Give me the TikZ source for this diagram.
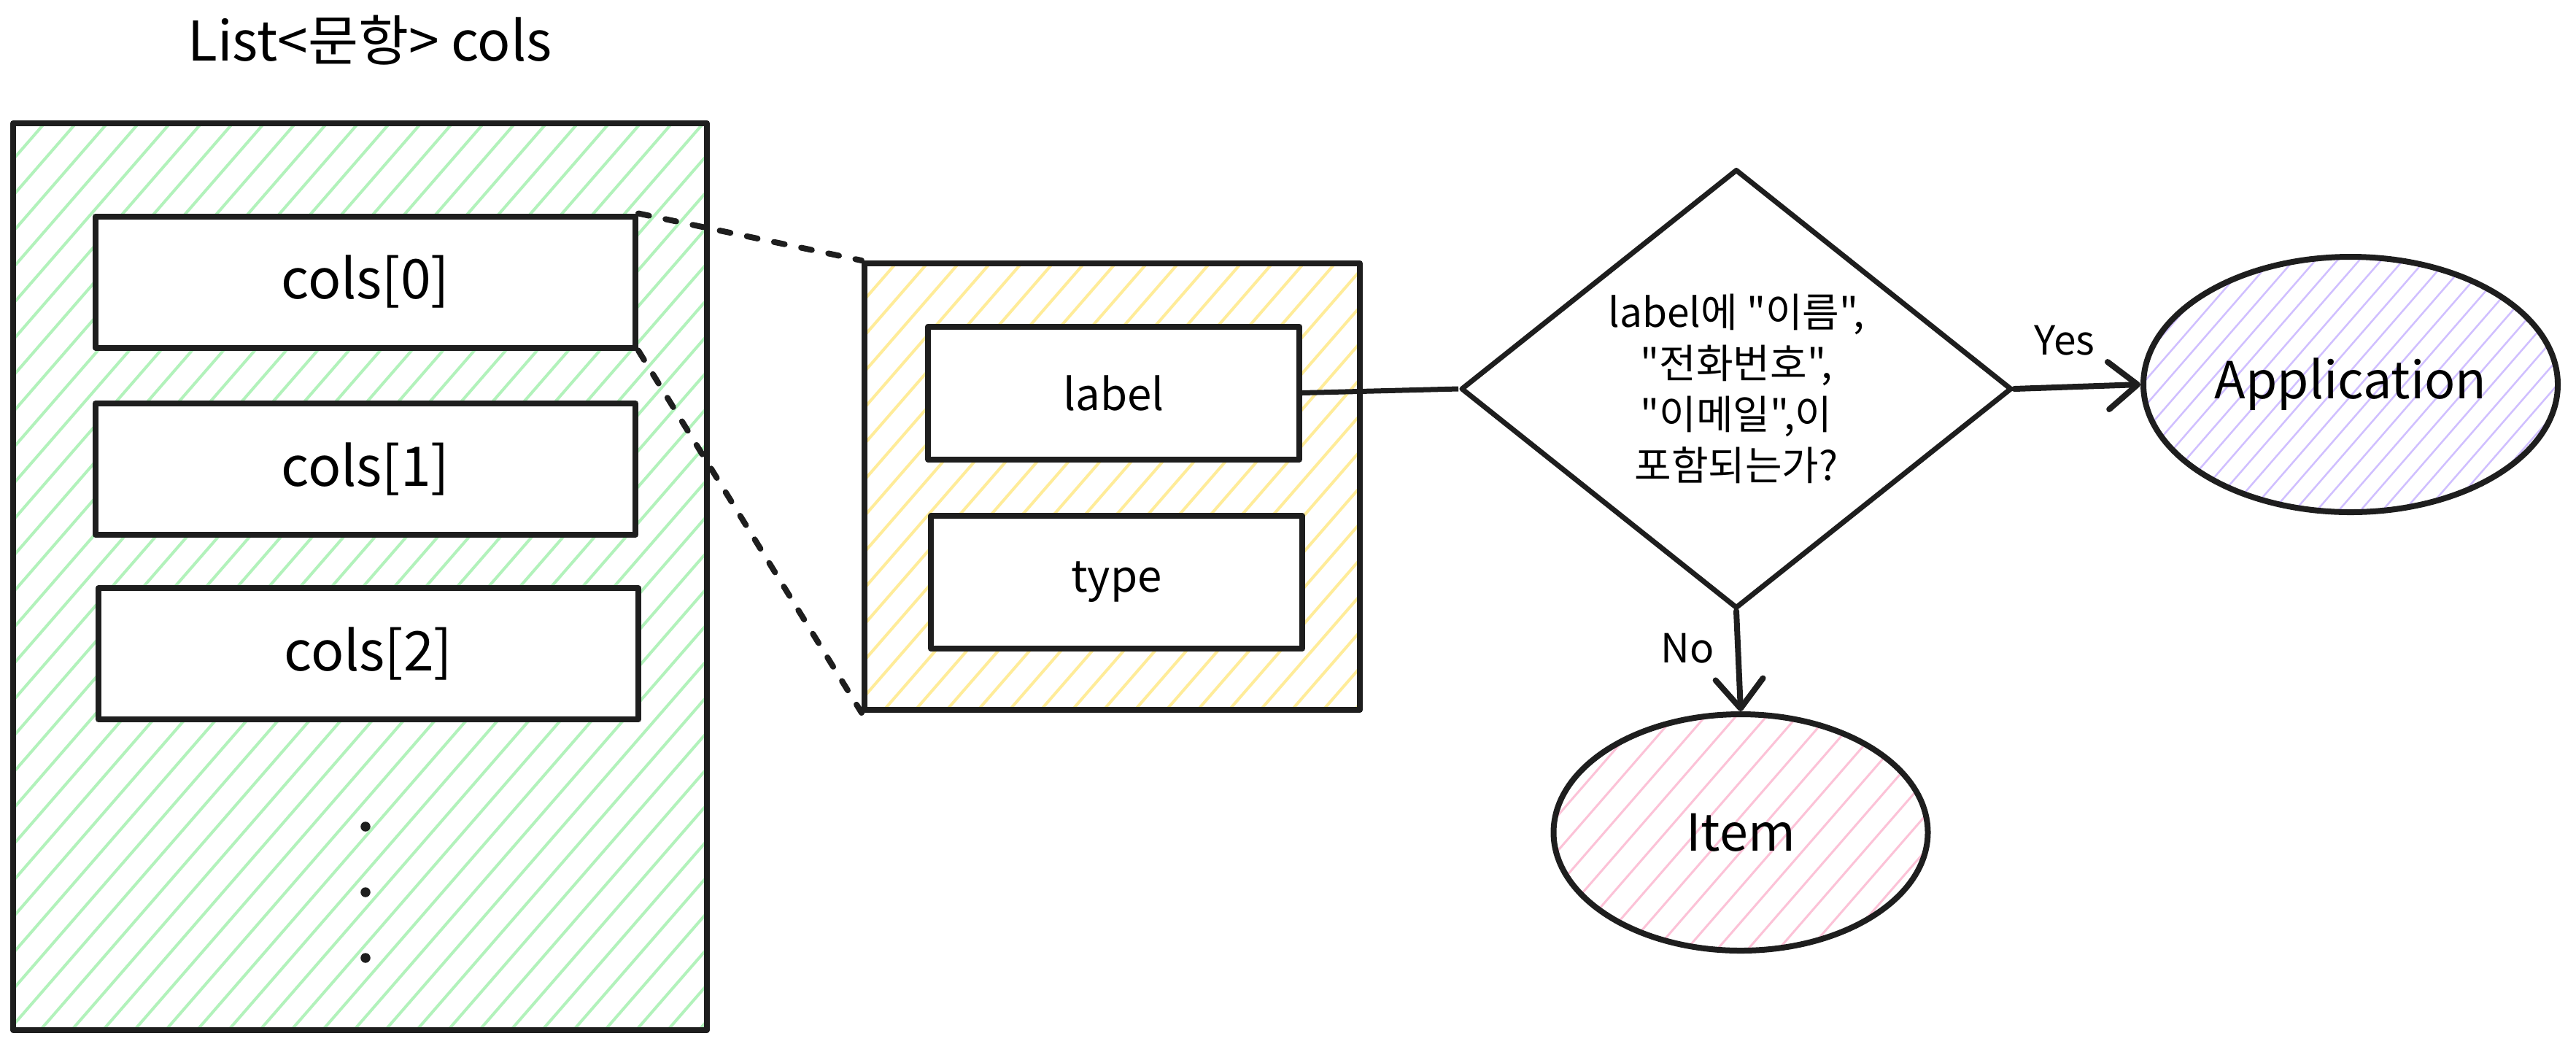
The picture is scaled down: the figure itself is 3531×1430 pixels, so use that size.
\documentclass[tikz,border=0pt]{standalone}
\usepackage{fontspec}
\setmainfont{Noto Sans CJK KR}[Ligatures=TeXOff]
\usetikzlibrary{shapes.geometric,arrows.meta,backgrounds}
\definecolor{ink}{HTML}{1E1E1E}
\definecolor{hgreen}{HTML}{B2F2BB}
\definecolor{hyellow}{HTML}{FFEC99}
\definecolor{hviolet}{HTML}{D0BFFF}
\definecolor{hpink}{HTML}{FCC2D7}
% #1 xmin, #2 ymin(top), #3 xmax, #4 ymax(bottom), #5 spacing, #6 style (pixel units)
\newcommand\hatchlines[6]{%
  \pgfmathsetmacro\hh{#4-#2}%
  \pgfmathsetmacro\run{\hh/1.15}%
  \pgfmathtruncatemacro\nn{(#3-#1+\run)/#5+1}%
  \foreach \k in {0,...,\nn}{%
    \draw[#6] ({#1-\run+\k*#5},#4) -- ++(\run,-\hh);
  }}
\begin{document}
\begin{tikzpicture}[x=0.2pt,y=-0.2pt,
  line join=round,
  outline/.style={draw=ink,line width=1.6pt},
  bigbox/.style={outline,rectangle,inner sep=0pt,minimum width=190.2pt,minimum height=248.6pt},
  colbox/.style={outline,rectangle,fill=white,inner sep=0pt,minimum width=148pt,minimum height=36pt,font=\fontsize{15}{18}\selectfont},
  objbox/.style={outline,rectangle,inner sep=0pt,minimum width=135.8pt,minimum height=122.4pt},
  fieldbox/.style={outline,rectangle,fill=white,inner sep=0pt,minimum width=101.8pt,minimum height=36.4pt,font=\fontsize{12}{14}\selectfont},
  decision/.style={draw=ink,line width=1.4pt,diamond,aspect=1.25,inner sep=0pt,minimum width=151pt,minimum height=120.4pt,align=center,font=\fontsize{11}{14}\selectfont},
  oval/.style={outline,ellipse,inner sep=0pt,font=\fontsize{14}{16}\selectfont},
  dotnode/.style={circle,fill=ink,inner sep=0pt,minimum size=2.7pt},
  titletext/.style={inner sep=0pt,anchor=base,font=\fontsize{15}{18}\selectfont},
  lbltext/.style={inner sep=0pt,font=\fontsize{11}{13}\selectfont},
  dashconn/.style={draw=ink,line width=1.6pt,line cap=round,dash pattern=on 3pt off 4.6pt},
  plainconn/.style={draw=ink,line width=1.4pt},
  arrowconn/.style={draw=ink,line width=1.6pt,line cap=round,-{Straight Barb[length=8pt,width=13pt,round]}},
  hg/.style={draw=hgreen,line width=0.8pt},
  hy/.style={draw=hyellow,line width=0.8pt},
  hv/.style={draw=hviolet,line width=0.5pt},
  hp/.style={draw=hpink,line width=0.6pt}]
\useasboundingbox (0,0) rectangle (3531,1430);

% title
\node[titletext] (ttl) at (507,83) {List<문항> cols};

% list container
\node[bigbox] (list) at (493.5,790.5) {};
\node[colbox] (c0) at (501,386.5) {cols[0]};
\node[colbox] (c1) at (501,643) {cols[1]};
\node[colbox] (c2) at (505,896) {cols[2]};
\node[dotnode] (d1) at (501,1133) {};
\node[dotnode] (d2) at (501,1223) {};
\node[dotnode] (d3) at (501,1313) {};

% object
\node[objbox] (obj) at (1524.5,667) {};
\node[fieldbox] (lab) at (1526.5,538.5) {label};
\node[fieldbox] (typ) at (1530.5,798) {type};

% decision
\node[decision] (q) at (2380,533) {label에 "이름",\\"전화번호",\\"이메일",이\\포함되는가?};

% results
\node[oval,minimum width=113.6pt,minimum height=70pt] (app) at (3222,527) {Application};
\node[oval,minimum width=102.6pt,minimum height=64.8pt] (item) at (2386,1141) {Item};

% connectors
\draw[dashconn] (c0.north east) -- (obj.north west);
\draw[dashconn] (c0.south east) -- (obj.south west);
\draw[plainconn] (lab.east) -- (q.west);
\draw[arrowconn] (q.east) -- (app.west);
\draw[arrowconn] (q.south) -- (item.north);
\node[lbltext] (yes) at (2830,467) {Yes};
\node[lbltext] (no) at (2313,889) {No};

% hatching
\begin{scope}[on background layer]
  \fill[white] (0,0) rectangle (3531,1430);
  \begin{scope}
    \clip (list.south west) rectangle (list.north east);
    \hatchlines{18}{169}{969}{1412}{43}{hg}
  \end{scope}
  \begin{scope}
    \clip (obj.south west) rectangle (obj.north east);
    \hatchlines{1185}{361}{1864}{973}{43}{hy}
  \end{scope}
  \begin{scope}
    \clip (app.center) ellipse [x radius=56.8pt, y radius=35pt];
    \hatchlines{2938}{352}{3506}{702}{30}{hv}
  \end{scope}
  \begin{scope}
    \clip (item.center) ellipse [x radius=51.3pt, y radius=32.4pt];
    \hatchlines{2130}{979}{2643}{1303}{42}{hp}
  \end{scope}
\end{scope}
\end{tikzpicture}
\end{document}
